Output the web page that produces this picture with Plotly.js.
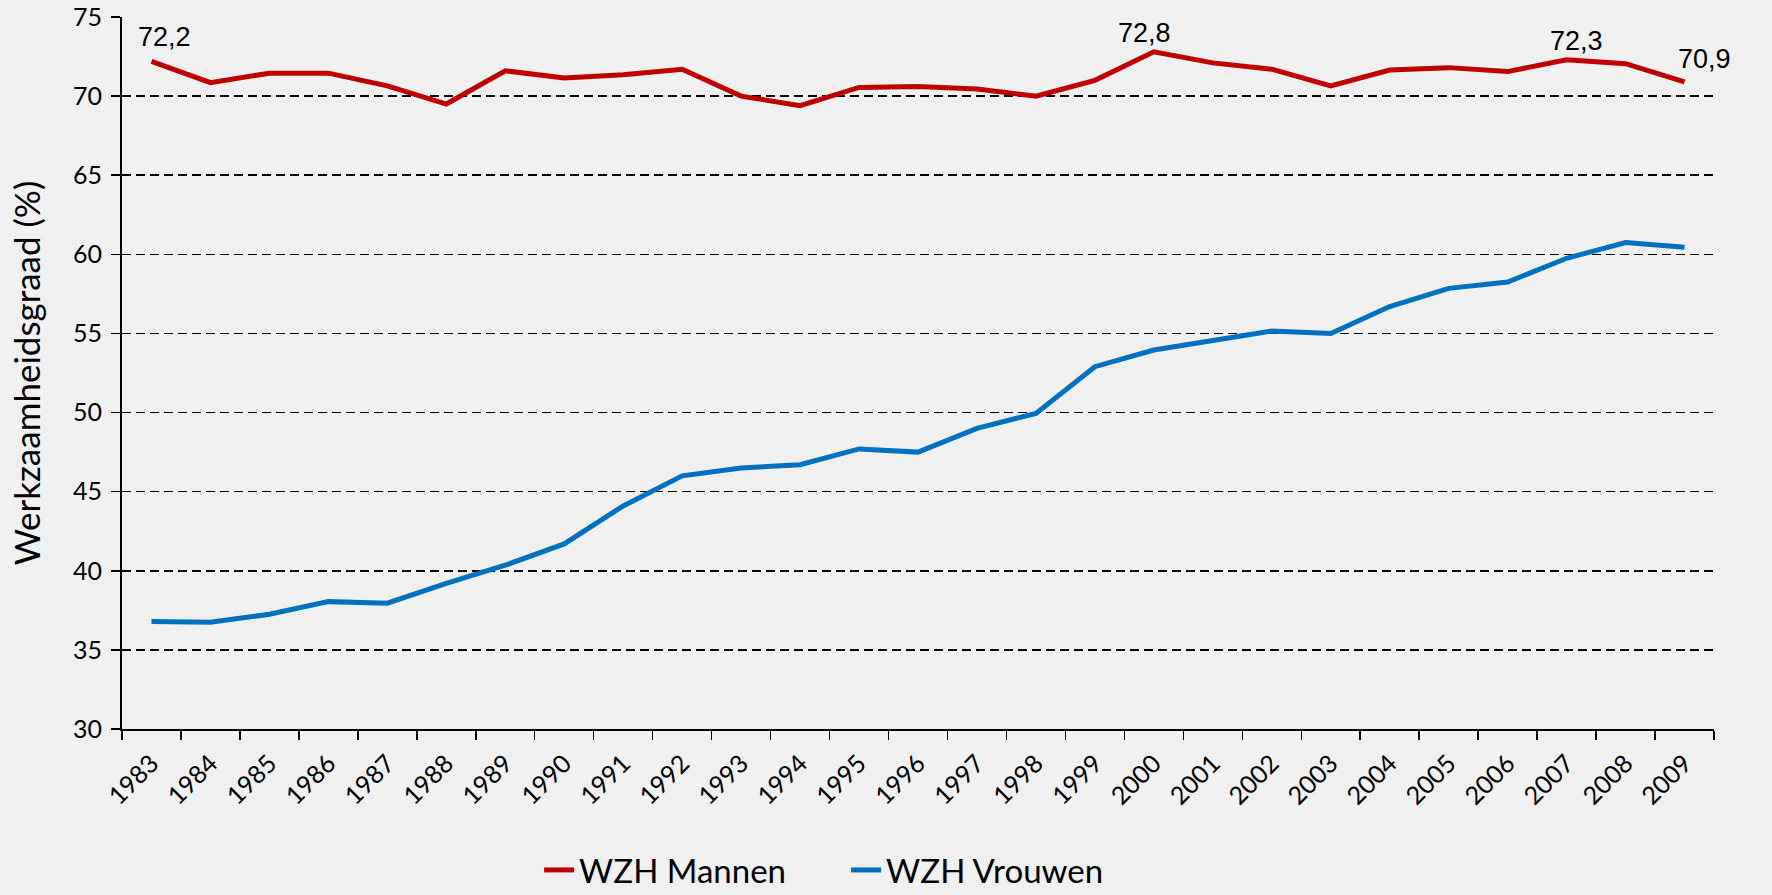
<!DOCTYPE html>
<html>
<head>
<meta charset="utf-8">
<script src="https://cdn.plot.ly/plotly-3.0.1.min.js"></script>
<style>
  html, body { margin: 0; padding: 0; background: #f0f0f0; }
  #chart { width: 1772px; height: 895px; }
</style>
</head>
<body>
<div id="chart"></div>
<script>
// ---- data ----
const years = ['1983','1984','1985','1986','1987','1988','1989','1990','1991','1992','1993','1994','1995','1996','1997','1998','1999','2000','2001','2002','2003','2004','2005','2006','2007','2008','2009'];
const mannen = [72.2, 70.85, 71.45, 71.45, 70.65, 69.5, 71.6, 71.15, 71.35, 71.7, 70.0, 69.4, 70.55, 70.6, 70.45, 70.0, 71.0, 72.8, 72.1, 71.7, 70.65, 71.65, 71.8, 71.55, 72.3, 72.05, 70.9];
const vrouwen = [36.8, 36.75, 37.25, 38.05, 37.95, 39.2, 40.35, 41.7, 44.1, 46.0, 46.5, 46.7, 47.7, 47.5, 49.0, 49.95, 52.9, 53.95, 54.55, 55.15, 55.0, 56.7, 57.85, 58.25, 59.75, 60.75, 60.45];
const labelYears = ['1983', '2000', '2007', '2009'];
const labelTexts = ['72,2', '72,8', '72,3', '70,9'];
const yTicks = [30, 35, 40, 45, 50, 55, 60, 65, 70, 75];
const seriesNames = ['WZH Mannen', 'WZH Vrouwen'];

// ---- style ----
const labelXShift = [13, -9, 10, 20];
const labelYShift = [24, 19, 19, 23];
const tickFont = { family: 'Lato, sans-serif', size: 25, color: '#000000' };

const traces = [
  { x: years, y: mannen, name: seriesNames[0], type: 'scatter', mode: 'lines',
    line: { color: '#c00000', width: 5 } },
  { x: years, y: vrouwen, name: seriesNames[1], type: 'scatter', mode: 'lines',
    line: { color: '#0070c0', width: 5 } }
];

const annotations = labelYears.map((yr, i) => {
  const idx = years.indexOf(yr);
  return {
    x: idx, y: mannen[idx], xref: 'x', yref: 'y',
    text: labelTexts[i], showarrow: false,
    xshift: labelXShift[i], yshift: labelYShift[i],
    font: { family: 'Liberation Sans, Arial, sans-serif', size: 27, color: '#000000' }
  };
});

const layout = {
  width: 1772, height: 895,
  paper_bgcolor: '#f0f0f0', plot_bgcolor: '#f0f0f0',
  margin: { l: 122, r: 58, t: 17, b: 166, autoexpand: false },
  showlegend: true,
  legend: {
    orientation: 'h', x: 0.262, xanchor: 'left', y: -0.198, yanchor: 'middle',
    font: { family: 'Lato, sans-serif', size: 33, color: '#000000' },
    bgcolor: 'rgba(0,0,0,0)', entrywidth: 262, entrywidthmode: 'pixels'
  },
  xaxis: {
    type: 'category', tickangle: -45, tickfont: tickFont, automargin: false,
    showline: true, linecolor: '#000000', linewidth: 2,
    ticks: 'outside', tickson: 'boundaries', ticklen: 9, tickwidth: 1.5, tickcolor: '#000000',
    showgrid: false, zeroline: false, ticklabelstandoff: 8,
    range: [-0.5, 26.5]
  },
  yaxis: {
    range: [30, 75], tickvals: yTicks, ticktext: yTicks.map(String), tickfont: tickFont,
    showline: true, linecolor: '#000000', linewidth: 2, automargin: false,
    ticks: 'outside', ticklen: 9, tickwidth: 1.5, tickcolor: '#000000',
    showgrid: true, gridcolor: '#000000', gridwidth: 1.6, griddash: '9px,5px',
    zeroline: false, ticklabelstandoff: 4,
    title: { text: 'Werkzaamheidsgraad (%)', standoff: 22,
      font: { family: 'Lato, sans-serif', size: 35, color: '#000000' } }
  },
  annotations: annotations
};

Plotly.newPlot('chart', traces, layout, { displayModeBar: false, staticPlot: true });
</script>
</body>
</html>
